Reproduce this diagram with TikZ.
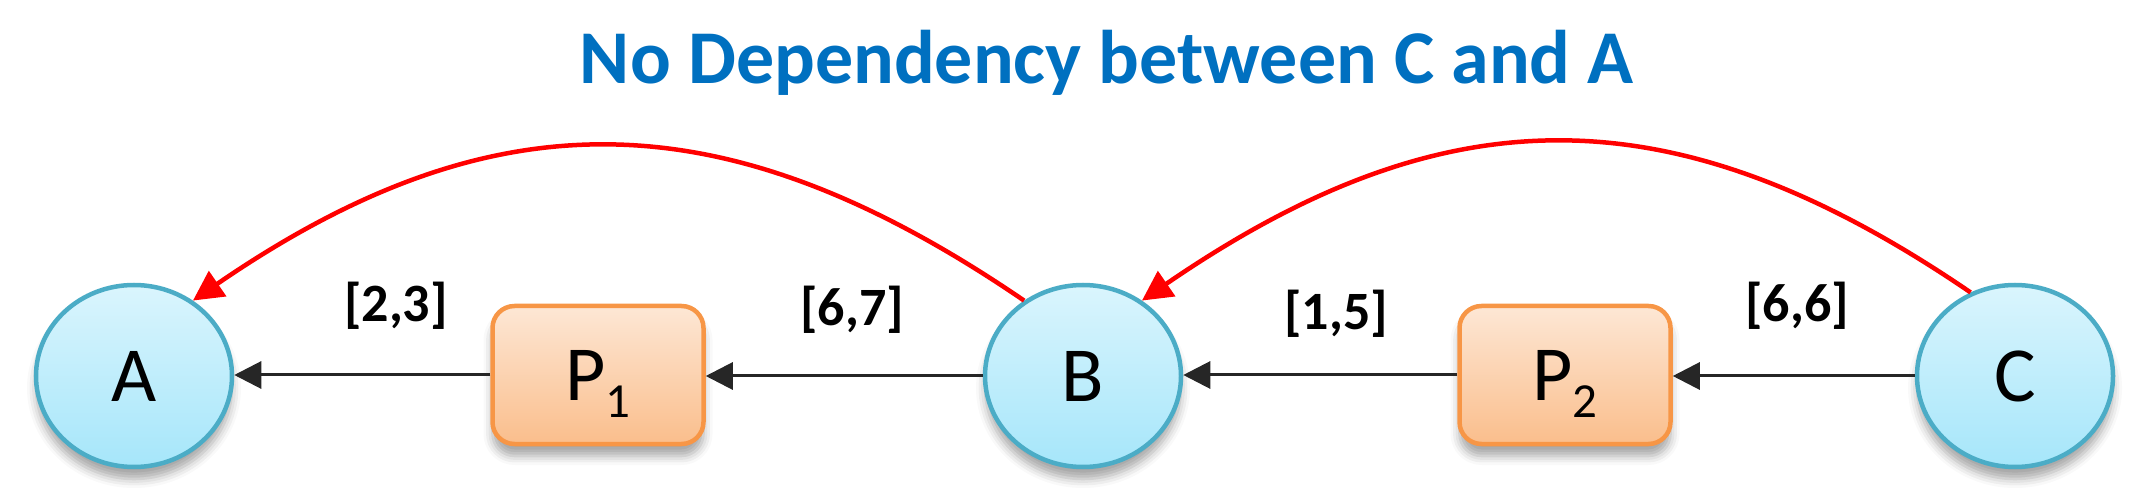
\documentclass[tikz,border=0pt]{standalone}
\usepackage{fontspec}
\setmainfont{Carlito}
\usetikzlibrary{shapes.geometric,arrows.meta,shadows.blur}
\definecolor{ellTop}{HTML}{DAF5FD}
\definecolor{ellBot}{HTML}{A6E6FA}
\definecolor{ellLine}{HTML}{4BACC6}
\definecolor{boxTop}{HTML}{FDE7D5}
\definecolor{boxBot}{HTML}{FABE8C}
\definecolor{boxLine}{HTML}{F79646}
\definecolor{titleBlue}{HTML}{0070C0}
\definecolor{depRed}{HTML}{FF0000}
\begin{document}
\begin{tikzpicture}[x=1pt,y=-1pt,
  every shadow/.style={},
  statenode/.style={ellipse, draw=ellLine, line width=4.5pt, top color=ellTop, bottom color=ellBot,
    minimum width=196pt, minimum height=182pt, inner sep=0pt,
    font=\fontsize{78}{80}\selectfont,
    blur shadow={shadow xshift=0pt, shadow yshift=-12pt, shadow blur radius=9pt, shadow opacity=35}},
  procnode/.style={rectangle, rounded corners=22pt, draw=boxLine, line width=4.5pt, top color=boxTop, bottom color=boxBot,
    minimum width=211pt, minimum height=138pt, inner sep=0pt,
    font=\fontsize{78}{80}\selectfont,
    blur shadow={shadow xshift=0pt, shadow yshift=-12pt, shadow blur radius=9pt, shadow opacity=35}},
  rangelabel/.style={inner sep=0pt, font=\bfseries\fontsize{54}{56}\selectfont},
  titletext/.style={inner sep=0pt, anchor=base, text=titleBlue, font=\bfseries\fontsize{76}{78}\selectfont},
  flowarrow/.style={draw=black!85, line width=3pt, -{Triangle[length=27pt,width=27pt]}},
  deparrow/.style={draw=depRed, line width=4.5pt, -{Triangle[length=30pt,width=30pt]}}
]
\useasboundingbox (0,0) rectangle (2150,502);
\newcommand{\subone}[1]{P\smash{\raisebox{-17pt}{\fontsize{49}{49}\selectfont #1}}}
\node[titletext] (title) at (1107,84) {No Dependency between C and A};

\node[statenode] (A) at (134,376) {A};
\node[procnode]  (P1) at (598,375) {\subone{1}};
\node[statenode] (B) at (1083,376) {B};
\node[procnode]  (P2) at (1565,375) {\subone{2}};
\node[statenode] (C) at (2015,376) {C};

\draw[flowarrow] (P1.west) -- (P1.west -| A.east);
\draw[flowarrow] (B.west) -- (B.west -| P1.east);
\draw[flowarrow] (P2.west) -- (P2.west -| B.east);
\draw[flowarrow] (C.west) -- (C.west -| P2.east);

\node[rangelabel] (l23) at (396,306) {[2,3]};
\node[rangelabel] (l67) at (852,310) {[6,7]};
\node[rangelabel] (l15) at (1336,314) {[1,5]};
\node[rangelabel] (l66) at (1797,306) {[6,6]};

\draw[deparrow] (B.128) .. controls +(-300,-205) and +(300,-206) .. (A.52);
\draw[deparrow] (C.118) .. controls +(-300,-205) and +(300,-206) .. (B.52);
\end{tikzpicture}
\end{document}
